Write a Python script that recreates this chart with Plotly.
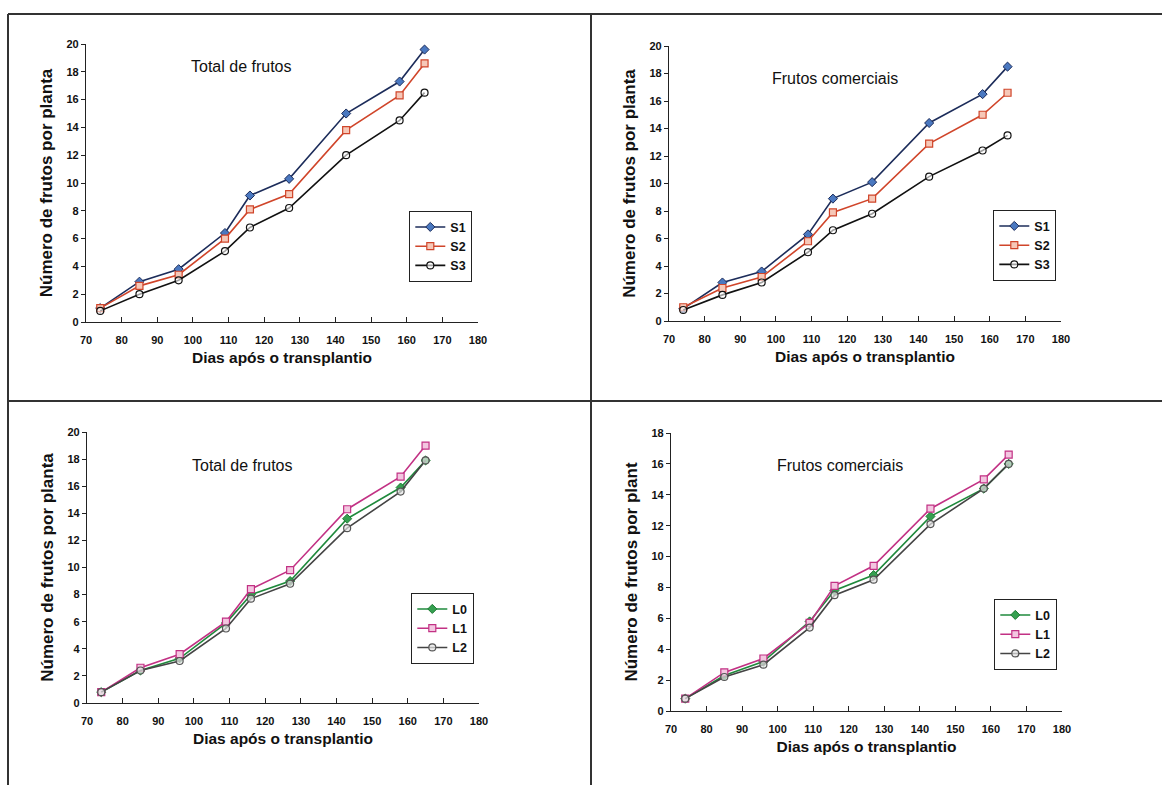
import plotly.graph_objects as go

W, H = 1162, 785

days = [74, 85, 96, 109, 116, 127, 143, 158, 165]

# Panel 1: Total de frutos (S)
tot_S1 = [1.0, 2.9, 3.8, 6.4, 9.1, 10.3, 15.0, 17.3, 19.6]
tot_S2 = [1.0, 2.6, 3.4, 6.0, 8.1, 9.2, 13.8, 16.3, 18.6]
tot_S3 = [0.8, 2.0, 3.0, 5.1, 6.8, 8.2, 12.0, 14.5, 16.5]
# Panel 2: Frutos comerciais (S)
com_S1 = [0.9, 2.8, 3.6, 6.3, 8.9, 10.1, 14.4, 16.5, 18.5]
com_S2 = [1.0, 2.4, 3.2, 5.8, 7.9, 8.9, 12.9, 15.0, 16.6]
com_S3 = [0.8, 1.9, 2.8, 5.0, 6.6, 7.8, 10.5, 12.4, 13.5]
# Panel 3: Total de frutos (L)
tot_L0 = [0.8, 2.4, 3.3, 5.9, 8.0, 9.0, 13.6, 15.9, 17.9]
tot_L1 = [0.8, 2.6, 3.6, 6.0, 8.4, 9.8, 14.3, 16.7, 19.0]
tot_L2 = [0.8, 2.4, 3.1, 5.5, 7.7, 8.8, 12.9, 15.6, 17.9]
# Panel 4: Frutos comerciais (L)
com_L0 = [0.8, 2.3, 3.2, 5.8, 7.8, 8.8, 12.6, 14.4, 16.0]
com_L1 = [0.8, 2.5, 3.4, 5.7, 8.1, 9.4, 13.1, 15.0, 16.6]
com_L2 = [0.8, 2.2, 3.0, 5.4, 7.5, 8.5, 12.1, 14.4, 16.0]

x_ticks = [70, 80, 90, 100, 110, 120, 130, 140, 150, 160, 170, 180]

FONT = "Liberation Sans, Arial, sans-serif"

def px_x(p):
    return p / W

def px_y(p):
    return 1 - p / H

panels = [
    dict(x=(86, 478), y=(44, 322), ymax=20, title="Total de frutos", tpos=(241, 67),
         ylab="Número de frutos por planta", leg=(409, 211)),
    dict(x=(669, 1061), y=(46, 321), ymax=20, title="Frutos comerciais", tpos=(835, 79),
         ylab="Número de frutos por planta", leg=(993, 210)),
    dict(x=(87, 479), y=(432, 703), ymax=20, title="Total de frutos", tpos=(242, 465),
         ylab="Número de frutos por planta", leg=(411, 593)),
    dict(x=(671, 1062), y=(433, 711), ymax=18, title="Frutos comerciais", tpos=(840, 465),
         ylab="Número de frutos por plant", leg=(994, 599)),
]

S_styles = [
    ("S1", dict(color="#1c2c5a", width=1.6), dict(symbol="diamond", size=7, color="#4a78c0", line=dict(color="#1c2c5a", width=1))),
    ("S2", dict(color="#d0452a", width=1.6), dict(symbol="square", size=7, color="#f6c8b8", line=dict(color="#d0452a", width=1.2))),
    ("S3", dict(color="#111111", width=1.6), dict(symbol="circle", size=7, color="rgba(255,255,255,0.6)", line=dict(color="#111111", width=1.2))),
]
L_styles = [
    ("L0", dict(color="#1f8a3c", width=1.6), dict(symbol="diamond", size=7, color="#35a050", line=dict(color="#1f7a34", width=1))),
    ("L1", dict(color="#c23184", width=1.6), dict(symbol="square", size=7, color="#f3c6e0", line=dict(color="#c23184", width=1.2))),
    ("L2", dict(color="#444444", width=1.6), dict(symbol="circle", size=7, color="rgba(230,230,230,0.7)", line=dict(color="#555555", width=1.2))),
]

series = [
    (S_styles, [tot_S1, tot_S2, tot_S3]),
    (S_styles, [com_S1, com_S2, com_S3]),
    (L_styles, [tot_L0, tot_L1, tot_L2]),
    (L_styles, [com_L0, com_L1, com_L2]),
]

fig = go.Figure()
layout = dict(width=W, height=H, margin=dict(l=0, r=0, t=0, b=0, autoexpand=False),
              paper_bgcolor="white", plot_bgcolor="white", font=dict(family=FONT, color="#111"),
              showlegend=True)
annotations = []
shapes = []

for i, (p, (styles, vals)) in enumerate(zip(panels, series), start=1):
    xa = "xaxis" if i == 1 else f"xaxis{i}"
    ya = "yaxis" if i == 1 else f"yaxis{i}"
    xref = "x" if i == 1 else f"x{i}"
    yref = "y" if i == 1 else f"y{i}"
    leg = "legend" if i == 1 else f"legend{i}"
    for (name, ln, mk), v in zip(styles, vals):
        fig.add_trace(go.Scatter(x=days, y=v, name=name, mode="lines+markers",
                                 line=ln, marker=mk, xaxis=xref, yaxis=yref, legend=leg,
                                 cliponaxis=False))
    layout[xa] = dict(domain=[px_x(p["x"][0]), px_x(p["x"][1])], anchor=yref, automargin=False,
                      range=[70, 180], tickvals=x_ticks, ticks="inside", ticklen=5,
                      tickcolor="#222", tickwidth=1.3, ticklabelstandoff=8,
                      showline=True, linecolor="#222", linewidth=1.3, showgrid=False,
                      zeroline=False, tickfont=dict(size=11, family=FONT, color="#111", weight="bold"),
                      title=dict(text="Dias após o transplantio", standoff=6,
                                 font=dict(size=15.5, family=FONT, color="#111", weight="bold")))
    layout[ya] = dict(domain=[px_y(p["y"][1]), px_y(p["y"][0])], anchor=xref, automargin=False,
                      range=[0, p["ymax"]], dtick=2, ticks="outside", ticklen=4,
                      tickcolor="#222", tickwidth=1.2,
                      showline=True, linecolor="#222", linewidth=1.2, showgrid=False,
                      zeroline=False, tickfont=dict(size=11, family=FONT, color="#111", weight="bold"),
                      title=dict(text=p["ylab"], standoff=9,
                                 font=dict(size=17, family=FONT, color="#111", weight="bold")))
    layout[leg] = dict(x=px_x(p["leg"][0]), y=px_y(p["leg"][1]), xanchor="left", yanchor="top",
                       bgcolor="white", bordercolor="#222", borderwidth=1.3,
                       font=dict(size=12.5, family=FONT, color="#111", weight="bold"),
                       itemwidth=30, tracegroupgap=0)
    annotations.append(dict(text=p["title"], x=px_x(p["tpos"][0]), y=px_y(p["tpos"][1]),
                            xref="paper", yref="paper", xanchor="center", yanchor="middle",
                            showarrow=False,
                            font=dict(size=16, family=FONT, color="#111")))

# Panel frame lines
frame = [((8, 14), (1162, 14)), ((8, 14), (8, 785)), ((591, 14), (591, 785)), ((8, 401), (1162, 401))]
for (x0, y0), (x1, y1) in frame:
    shapes.append(dict(type="line", xref="paper", yref="paper",
                       x0=px_x(x0), y0=px_y(y0), x1=px_x(x1), y1=px_y(y1),
                       line=dict(color="#333", width=2)))

layout["annotations"] = annotations
layout["shapes"] = shapes
fig.update_layout(**layout)
fig.write_html("out.html")
